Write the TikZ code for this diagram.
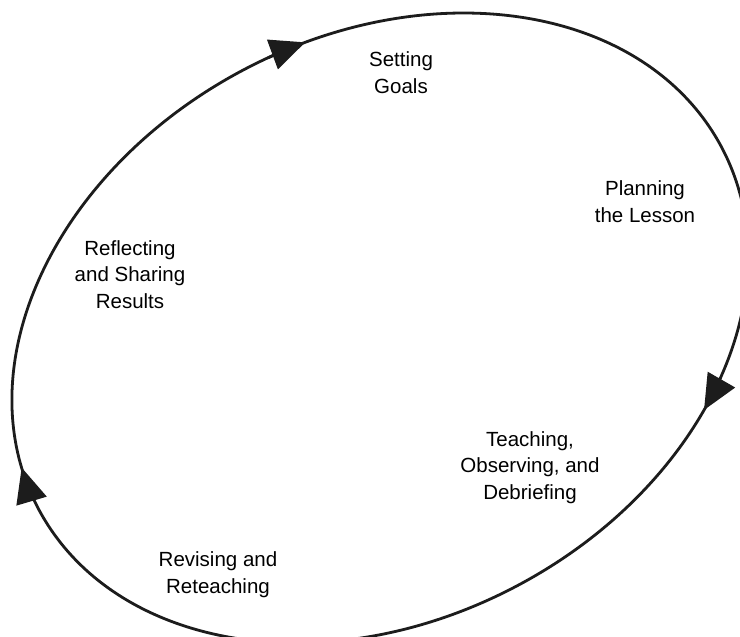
\documentclass[tikz,border=0pt]{standalone}
\usepackage{fontspec}
\setmainfont{Liberation Sans}
\usetikzlibrary{arrows.meta}
\definecolor{ink}{HTML}{1C1C1C}
\tikzset{
  cycleline/.style={draw=ink, line width=2.8pt},
  cyclearrow/.style={draw=ink, line width=2.8pt, -{Triangle[length=35pt,width=31pt]}},
  stagelabel/.style={align=center, inner sep=0pt, anchor=base, font=\fontsize{20.5pt}{26.5pt}\selectfont, text=black}
}
\begin{document}
\begin{tikzpicture}[x=1pt,y=1pt]
\useasboundingbox (0,0) rectangle (740,-637);
\fill[white] (0,0) rectangle (740,-637);
\begin{scope}
\clip (0,0) rectangle (740,-637);
\begin{scope}[shift={(380,-328)}, rotate=27.8]
  \coordinate (c) at (0,0);
  \draw[cycleline] (c) ellipse [x radius=386.5pt, y radius=292pt];
  \coordinate (a1) at (86:386.5pt and 292pt);
  \coordinate (a2) at (316:386.5pt and 292pt);
  \coordinate (a3) at (177:386.5pt and 292pt);
  \draw[cyclearrow] (a1) arc[start angle=86, end angle=80, x radius=386.5pt, y radius=292pt];
  \draw[cyclearrow] (a2) arc[start angle=316, end angle=310, x radius=386.5pt, y radius=292pt];
  \draw[cyclearrow] (a3) arc[start angle=177, end angle=171.4, x radius=386.5pt, y radius=292pt];
\end{scope}
\end{scope}
\node[stagelabel] (goals) at (401,-93) {Setting\\Goals};
\node[stagelabel] (plan) at (645,-222) {Planning\\the Lesson};
\node[stagelabel] (teach) at (530,-499) {Teaching,\\Observing, and\\Debriefing};
\node[stagelabel] (revise) at (218,-593) {Revising and\\Reteaching};
\node[stagelabel] (reflect) at (130,-308) {Reflecting\\and Sharing\\Results};
\end{tikzpicture}
\end{document}
